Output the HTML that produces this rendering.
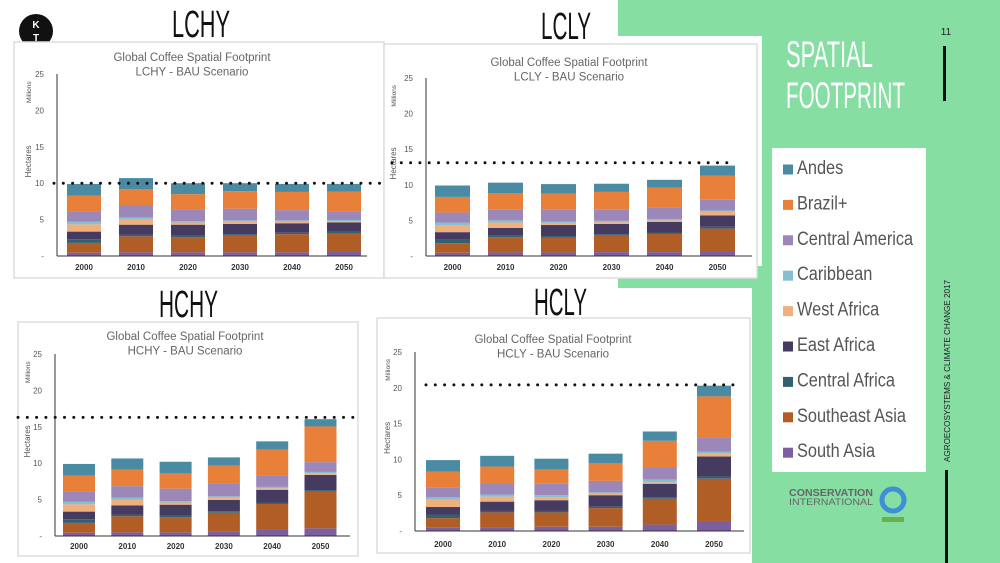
<!DOCTYPE html>
<html><head><meta charset="utf-8"><style>
html,body{margin:0;padding:0;background:#fff;}
svg{display:block;font-family:"Liberation Sans",sans-serif;}
</style></head><body>
<svg id="slide" width="1000" height="563" viewBox="0 0 1000 563" xmlns="http://www.w3.org/2000/svg">
  <rect x="618" y="0" width="382" height="563" fill="#86dea3"/>
  <rect x="376" y="36" width="386" height="230" fill="#fff"/>
  <rect x="370" y="288" width="382" height="275" fill="#fff"/>

  <circle cx="36" cy="31" r="17" fill="#111"/>
  <text x="36" y="28" font-size="10" font-weight="bold" fill="#fff" text-anchor="middle">K</text>
  <text x="36" y="41" font-size="10" font-weight="bold" fill="#fff" text-anchor="middle">T</text>

  <text x="172" y="37" font-size="38" textLength="58" lengthAdjust="spacingAndGlyphs" fill="#111">LCHY</text>
  <text x="541" y="39" font-size="38" textLength="50" lengthAdjust="spacingAndGlyphs" fill="#111">LCLY</text>
  <text x="159" y="317" font-size="38" textLength="59" lengthAdjust="spacingAndGlyphs" fill="#111">HCHY</text>
  <text x="534" y="315" font-size="38" textLength="53" lengthAdjust="spacingAndGlyphs" fill="#111">HCLY</text>

  <text x="786" y="67" font-size="37" textLength="87" lengthAdjust="spacingAndGlyphs" fill="#fff">SPATIAL</text>
  <text x="786" y="108" font-size="37" textLength="119" lengthAdjust="spacingAndGlyphs" fill="#fff">FOOTPRINT</text>
  <text x="946" y="35" font-size="10" fill="#222" text-anchor="middle">11</text>
  <rect x="943" y="46" width="3" height="55" fill="#111"/>
  <rect x="945" y="470" width="3" height="93" fill="#111"/>
  <text transform="translate(950,462) rotate(-90)" font-size="8.5" textLength="182" lengthAdjust="spacingAndGlyphs" fill="#222">AGROECOSYSTEMS &amp; CLIMATE CHANGE 2017</text>

  <g id="legend">
    <rect x="772" y="148" width="154" height="324" fill="#fff"/>
  </g>

  <text x="789" y="496" font-size="10.5" font-weight="bold" fill="#666" textLength="84" lengthAdjust="spacingAndGlyphs">CONSERVATION</text>
  <text x="789" y="505" font-size="9.5" fill="#666" textLength="84" lengthAdjust="spacingAndGlyphs">INTERNATIONAL</text>
  <circle cx="893" cy="500" r="11" fill="none" stroke="#3d8fd8" stroke-width="5"/>
  <rect x="882" y="517" width="22" height="5" fill="#6ab04c"/>

  <g id="charts"></g>
</svg>
<script>
const years = ["2000","2010","2020","2030","2040","2050"];
const regions = ["South Asia","Southeast Asia","Central Africa","East Africa","West Africa","Caribbean","Central America","Brazil+","Andes"];
const regionColors = ["#7b5fa0","#b05e26","#336070","#453a60","#efb07d","#86c0d0","#9b87b8","#e8803a","#4a8aa3"];
const legendOrder = [8,7,6,5,4,3,2,1,0];
const yTicks = [0,5,10,15,20,25];
const yTickLabels = ["-","5","10","15","20","25"];
// segment values (millions ha), per year, bottom-up in regions order
const lchyData = [
  [0.45,1.35,0.5,1.05,1.0,0.35,1.4,2.2,1.6],
  [0.5,2.2,0.2,1.4,0.7,0.3,1.7,2.2,1.5],
  [0.5,2.1,0.2,1.5,0.3,0.2,1.6,2.1,1.5],
  [0.5,2.3,0.2,1.4,0.3,0.2,1.6,2.4,1.1],
  [0.5,2.5,0.2,1.3,0.2,0.2,1.4,2.5,1.1],
  [0.55,2.55,0.25,1.25,0.2,0.15,1.1,2.8,1.05]
];
const lclyData = [
  [0.45,1.35,0.5,1.05,1.0,0.35,1.4,2.2,1.6],
  [0.5,2.15,0.2,1.1,0.75,0.3,1.5,2.35,1.45],
  [0.5,2.1,0.2,1.55,0.3,0.2,1.7,2.2,1.35],
  [0.55,2.3,0.2,1.45,0.25,0.2,1.55,2.5,1.15],
  [0.55,2.55,0.2,1.5,0.2,0.2,1.6,2.8,1.1],
  [0.7,3.15,0.25,1.6,0.5,0.2,1.5,3.4,1.4]
];
const hchyData = [
  [0.45,1.35,0.5,1.05,1.0,0.35,1.4,2.2,1.6],
  [0.5,2.2,0.2,1.3,0.75,0.3,1.6,2.25,1.55],
  [0.5,2.1,0.2,1.5,0.3,0.2,1.7,2.1,1.6],
  [0.6,2.6,0.2,1.55,0.3,0.2,1.7,2.5,1.15],
  [0.9,3.5,0.2,1.75,0.2,0.2,1.5,3.6,1.15],
  [1.05,5.05,0.2,2.1,0.2,0.2,1.35,4.9,1.0]
];
const hclyData = [
  [0.45,1.35,0.5,1.05,1.0,0.35,1.4,2.2,1.6],
  [0.5,2.1,0.2,1.3,0.7,0.3,1.6,2.3,1.5],
  [0.6,2.0,0.2,1.5,0.4,0.3,1.6,2.0,1.5],
  [0.6,2.6,0.2,1.6,0.2,0.2,1.6,2.5,1.3],
  [0.9,3.6,0.2,1.9,0.2,0.4,1.6,3.8,1.3],
  [1.4,5.9,0.3,2.8,0.4,0.3,1.9,5.8,1.5]
];
const thresholds = [10.0, 13.1, 16.3, 20.4];
const chartNames = ["LCHY","LCLY","HCHY","HCLY"];
const chartSets = [lchyData, lclyData, hchyData, hclyData];

const layouts = [
  {box:[14,42,370,236], ax:57, base:256, top:74, b0:67, bw:34, sp:52, axEnd:367, dot:[54,384], tx:192, ty:61, yy:267, lx:28},
  {box:[384,44,373,234], ax:426, base:256, top:78, b0:435, bw:35, sp:53, axEnd:752, dot:[392,731], tx:569, ty:66, yy:267, lx:393},
  {box:[18,322,340,234], ax:55, base:536, top:354, b0:63, bw:32, sp:48.3, axEnd:350, dot:[18,358], tx:185, ty:340, yy:546, lx:27},
  {box:[377,318,373,235], ax:415, base:531, top:352, b0:426, bw:34, sp:54.2, axEnd:744, dot:[426,741], tx:553, ty:343, yy:544, lx:387}
];
const NS = "http://www.w3.org/2000/svg";
function mk(tag, attrs, parent){
  const e = document.createElementNS(NS, tag);
  for (const k in attrs) e.setAttribute(k, attrs[k]);
  parent.appendChild(e);
  return e;
}
const charts = document.getElementById("charts");
chartSets.forEach((data, ci) => {
  const L = layouts[ci];
  const nm = chartNames[ci].toLowerCase();
  const g = mk("g", {}, charts);
  
  
  const yScale = v => L.base - v * (L.base - L.top) / 25;
  const frame = mk("rect", {x:L.box[0], y:L.box[1], width:L.box[2], height:L.box[3], fill:"#fff", stroke:"#ddd", "stroke-width":1.5}, g);
  
  
  const t1 = mk("text", {x:L.tx, y:L.ty, "font-size":11.5, fill:"#666", "text-anchor":"middle"}, g);
  t1.textContent = "Global Coffee Spatial Footprint";
  
  
  const t2 = mk("text", {x:L.tx, y:L.ty + 14.5, "font-size":11.5, fill:"#666", "text-anchor":"middle"}, g);
  t2.textContent = chartNames[ci] + " - BAU Scenario";
  
  
  yTicks.forEach((v, i) => {
    const tk = mk("text", {x:L.ax - 13, y:yScale(v) + 3, "font-size":8, fill:"#555", "text-anchor":"end"}, g);
    tk.textContent = yTickLabels[i];
    
    
  });
  const m = mk("text", {transform:`translate(${L.lx + 3},${yScale(22.5)}) rotate(-90)`, "font-size":6.5, fill:"#555", "text-anchor":"middle"}, g);
  m.textContent = "Millions";
  
  
  const h = mk("text", {transform:`translate(${L.lx + 3},${yScale(13)}) rotate(-90)`, "font-size":8, fill:"#555", "text-anchor":"middle"}, g);
  h.textContent = "Hectares";
  
  
  data.forEach((segs, yi) => {
    const x = L.b0 + yi * L.sp;
    let cum = 0;
    segs.forEach((v, ri) => {
      const y1 = yScale(cum + v), y0 = yScale(cum);
      const r = mk("rect", {x:x, y:y1, width:L.bw, height:Math.max(0, y0 - y1), fill:regionColors[ri]}, g);
      
      
      cum += v;
    });
    const yl = mk("text", {x:x + L.bw / 2, y:L.yy + 3, "font-size":8, "font-weight":"bold", fill:"#333", "text-anchor":"middle"}, g);
    yl.textContent = years[yi];
    
    
  });
  const ya = mk("line", {x1:L.ax, y1:L.top, x2:L.ax, y2:L.base, stroke:"#333", "stroke-width":1}, g);
  
  
  const xa = mk("line", {x1:L.ax, y1:L.base, x2:L.axEnd, y2:L.base, stroke:"#333", "stroke-width":1}, g);
  
  
  const ty = yScale(thresholds[ci]);
  const dl = mk("line", {x1:L.dot[0], y1:ty, x2:L.dot[1], y2:ty, stroke:"#111", "stroke-width":3, "stroke-linecap":"round", "stroke-dasharray":"0 9.3"}, g);
  
  
});

const legend = document.getElementById("legend");
legendOrder.forEach((ri, i) => {
  const cy = 171 + i * 35.4;
  const sw = mk("rect", {x:783, y:cy - 6.5, width:10, height:10, fill:regionColors[ri]}, legend);
  
  
  const tx = mk("text", {transform:`translate(797,${cy + 3}) scale(0.86,1)`, "font-size":19, fill:"#555"}, legend);
  tx.textContent = regions[ri];
  
  
});
</script>
</body></html>
